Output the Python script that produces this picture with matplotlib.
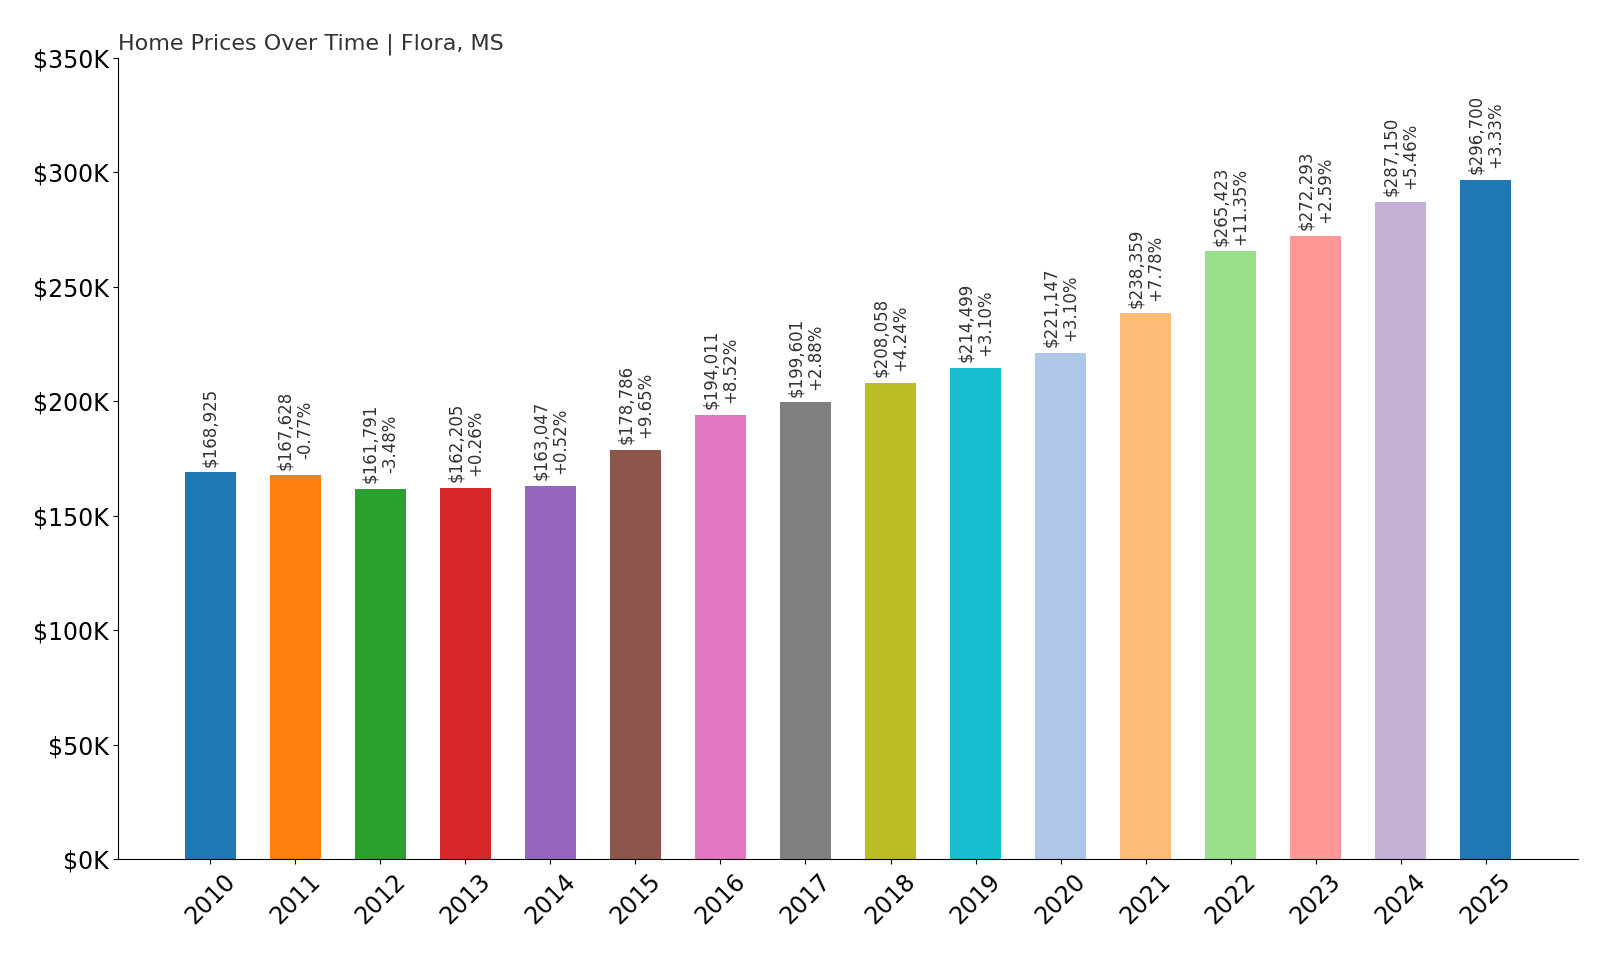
import matplotlib
matplotlib.use("Agg")
import matplotlib.pyplot as plt
from matplotlib.ticker import FuncFormatter

years = [str(y) for y in range(2010, 2026)]
prices = [168925, 167628, 161791, 162205, 163047, 178786, 194011, 199601,
          208058, 214499, 221147, 238359, 265423, 272293, 287150, 296700]
changes = [None, "-0.77%", "-3.48%", "+0.26%", "+0.52%", "+9.65%", "+8.52%", "+2.88%",
           "+4.24%", "+3.10%", "+3.10%", "+7.78%", "+11.35%", "+2.59%", "+5.46%", "+3.33%"]
colors = ["#1f77b4", "#ff7f0e", "#2ca02c", "#d62728", "#9467bd", "#8c564b",
          "#e377c2", "#7f7f7f", "#bcbd22", "#17becf", "#aec7e8", "#ffbb78",
          "#98df8a", "#ff9896", "#c5b0d5", "#1f77b4"]

fig = plt.figure(figsize=(16, 9.6), dpi=100)
ax = fig.add_axes([0.074, 0.105, 0.912, 0.835])

bars = ax.bar(years, prices, color=colors, width=0.6)

# value + change labels above each bar
for bar, p, c in zip(bars, prices, changes):
    label = f"${p:,}" if c is None else f"${p:,}\n{c}"
    ax.annotate(label, (bar.get_x() + bar.get_width() / 2, p),
                xytext=(0, 4), textcoords="offset points",
                ha="center", va="bottom", rotation=90,
                fontsize=12, color="#333333", linespacing=1.1)

ax.set_ylim(0, 350000)
ax.set_yticks(range(0, 350001, 50000))
ax.yaxis.set_major_formatter(FuncFormatter(lambda v, _: f"${int(v/1000)}K"))
ax.tick_params(axis="both", labelsize=17, direction="out")
plt.setp(ax.get_xticklabels(), rotation=45)

ax.spines["top"].set_visible(False)
ax.spines["right"].set_visible(False)

ax.set_title("Home Prices Over Time | Flora, MS", loc="left", fontsize=16,
             color="#333333", pad=6)

fig.savefig("out.png", dpi=100)
